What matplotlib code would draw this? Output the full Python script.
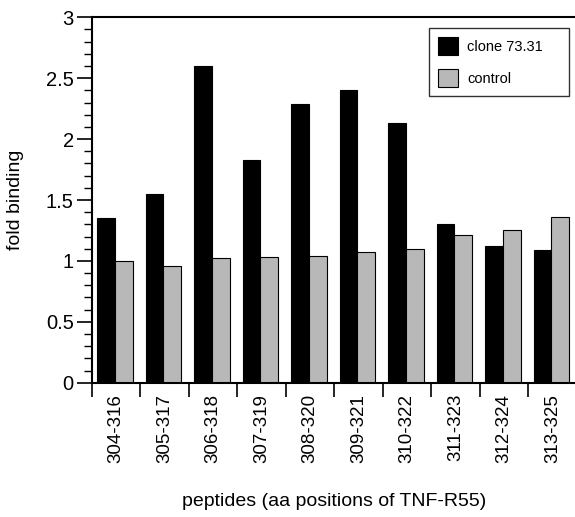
import numpy as np
import matplotlib
matplotlib.use('Agg')
import matplotlib.pyplot as plt

plt.rcParams['font.family'] = ['Liberation Sans', 'DejaVu Sans']

# peptide windows on the x axis
peptides = ['304-316', '305-317', '306-318', '307-319', '308-320',
            '309-321', '310-322', '311-323', '312-324', '313-325']
# fold binding values
clone = [1.35, 1.55, 2.60, 1.83, 2.29, 2.40, 2.13, 1.30, 1.12, 1.09]
control = [1.00, 0.96, 1.02, 1.03, 1.04, 1.07, 1.10, 1.21, 1.25, 1.36]
yticks = [0, 0.5, 1, 1.5, 2, 2.5, 3]
ylabels = ['0', '0.5', '1', '1.5', '2', '2.5', '3']

W, H = 575, 517
fig = plt.figure(figsize=(W / 100, H / 100), dpi=100)
ax = fig.add_axes([91.7 / W, 1 - 382.7 / H, 485 / W, (382.7 - 17.3) / H])

x = np.arange(len(peptides)) + 0.5
bw = 0.37
ax.bar(x - bw / 2 - 0.02, clone, bw, color='black', edgecolor='black',
       linewidth=0.8, label='clone 73.31')
ax.bar(x + bw / 2 - 0.02, control, bw, color='#b8b8b8', edgecolor='black',
       linewidth=0.8, label='control')

ax.set_xlim(0, len(peptides))
ax.set_ylim(0, 3)
ax.set_xticks(np.arange(len(peptides) + 1))
ax.set_xticklabels([])
ax.set_xticks(x, minor=True)
ax.set_xticklabels(peptides, minor=True, rotation=90, fontsize=13.5)
ax.tick_params(axis='x', which='minor', length=0, pad=8)
ax.tick_params(axis='x', which='major', direction='out', length=10, width=1.2)

ax.set_yticks(yticks)
ax.set_yticklabels(ylabels)
ax.set_yticks(np.arange(0, 3.01, 0.1), minor=True)
ax.tick_params(axis='y', which='major', direction='out', length=11, width=1.2,
               labelsize=14.5, pad=2)
ax.tick_params(axis='y', which='minor', direction='out', length=5.5, width=1)

for s in ax.spines.values():
    s.set_linewidth(1.5)
ax.spines['right'].set_visible(False)

ax.set_ylabel('fold binding', fontsize=14, labelpad=16)
ax.set_xlabel('peptides (aa positions of TNF-R55)', fontsize=14, labelpad=22)

# legend box spans fixed area like the original
leg = ax.legend(loc='upper left',
                bbox_to_anchor=(429.3 / W, 1 - 95.7 / H, 139.4 / W, 67.7 / H),
                bbox_transform=fig.transFigure, mode='expand',
                fontsize=10.5, frameon=True, fancybox=False, edgecolor='black',
                handlelength=1.4, handleheight=1.6, labelspacing=0.9,
                borderpad=0.6, handletextpad=0.6, borderaxespad=0)
leg.get_frame().set_linewidth(1)

fig.savefig('out.png', dpi=100)
